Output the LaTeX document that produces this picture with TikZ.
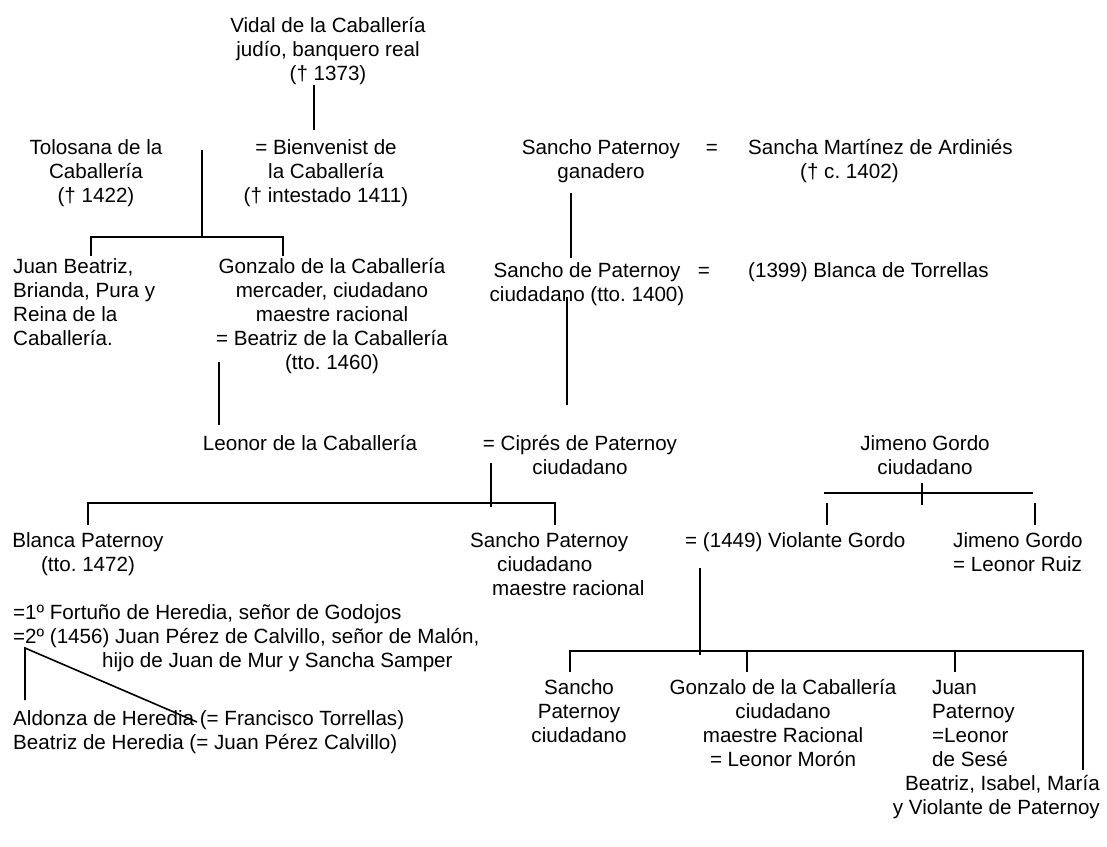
\documentclass[tikz,border=0pt]{standalone}
\usepackage{fontspec}
\setmainfont{Liberation Sans}
\usepackage{tikz}
\usetikzlibrary{positioning}
\frenchspacing

\begin{document}
\begin{tikzpicture}[x=1pt, y=-1pt, every node/.style={font=\fontsize{20.6}{24}\selectfont, inner sep=0pt}]
\tikzset{pers/.style={align=center, anchor=base}}
\tikzset{persl/.style={align=left, anchor=base west}}
\tikzset{persr/.style={align=right, anchor=base east}}
\tikzset{tie/.style={line width=1.6pt}}
\useasboundingbox (0,0) rectangle (1107,846);
% first generations (node base = baseline of last line)
\node[pers] (vidal) at (328,80) {Vidal de la Caballería\\judío, banquero real\\(† 1373)};
\node[pers] (tolosana) at (96,202) {Tolosana de la\\Caballería\\(† 1422)};
\node[pers] (bienv) at (326,202) {= Bienvenist de\\la Caballería\\(† intestado 1411)};
\node[persl] (juan) at (13,345) {Juan Beatriz,\\Brianda, Pura y\\Reina de la\\Caballería.};
\node[pers] (gonz1) at (332,369) {Gonzalo de la Caballería\\mercader, ciudadano\\maestre racional\\= Beatriz de la Caballería\\(tto. 1460)};
\node[pers] (leonor) at (310,450) {Leonor de la Caballería};
% Paternoy side
\node[pers] (sp1) at (601,178) {Sancho Paternoy\\ganadero};
\node[pers] (eq1) at (712,154) {=};
\node[persl] (sancha) at (748,178) {Sancha Martínez de Ardiniés\\\hspace*{52pt}(† c. 1402)};
\node[pers] (sp2) at (587,301) {Sancho de Paternoy\\ciudadano (tto. 1400)};
\node[pers] (eq2) at (704,277) {=};
\node[persl] (blancat) at (748,277) {(1399) Blanca de Torrellas};
\node[pers] (cipres) at (580,474) {= Ciprés de Paternoy\\ciudadano};
\node[pers] (jg1) at (925,474) {Jimeno Gordo\\ciudadano};
% next generation
\node[pers] (blanca) at (88,571) {Blanca Paternoy\\(tto. 1472)};
\node[persl] (sp3) at (470,595) {Sancho Paternoy\\\hspace*{27pt}ciudadano\\\hspace*{22pt}maestre racional};
\node[persl] (violante) at (685,547) {= (1449) Violante Gordo};
\node[persl] (jg2) at (953,571) {Jimeno Gordo\\= Leonor Ruiz};
\node[persl] (heredia) at (13,667) {=1º Fortuño de Heredia, señor de Godojos\\=2º (1456) Juan Pérez de Calvillo, señor de Malón,\\\hspace*{89pt}hijo de Juan de Mur y Sancha Samper};
\node[persl] (aldonza) at (13,749) {Aldonza de Heredia (= Francisco Torrellas)\\Beatriz de Heredia (= Juan Pérez Calvillo)};
\node[pers] (ch1) at (579,742) {Sancho\\Paternoy\\ciudadano};
\node[pers] (ch2) at (783,766) {Gonzalo de la Caballería\\ciudadano\\maestre Racional\\= Leonor Morón};
\node[persl] (ch3) at (932,766) {Juan\\Paternoy\\=Leonor\\de Sesé};
\node[persr] (ch4) at (1100,814) {Beatriz, Isabel, María\\y Violante de Paternoy};
% fork points
\coordinate (vd) at (314,85);   \coordinate (bv) at (314,130);
\coordinate (m1) at (202,150);  \coordinate (f1) at (202,237);
\coordinate (f1l) at (91,237);  \coordinate (f1r) at (283,237);
\coordinate (d1l) at (91,256);  \coordinate (d1r) at (283,256);
\coordinate (gz) at (219,362);  \coordinate (ln) at (219,425);
\coordinate (s1) at (571,193);  \coordinate (s2) at (571,258);
\coordinate (s3) at (567,297);  \coordinate (cp) at (567,405);
\coordinate (m2) at (491,463);  \coordinate (f2) at (491,507);
\coordinate (f2l) at (88,503);  \coordinate (f2r) at (555,503);
\coordinate (d2l) at (88,525);  \coordinate (d2r) at (555,525);
\coordinate (f3l) at (824,493); \coordinate (f3r) at (1033,493);
\coordinate (t3a) at (922,483); \coordinate (t3b) at (922,505);
\coordinate (u3l) at (827,503); \coordinate (d3l) at (827,525);
\coordinate (u3r) at (1035,503); \coordinate (d3r) at (1035,525);
\coordinate (m4) at (700,568);  \coordinate (f4) at (700,655);
\coordinate (f4a) at (570,651); \coordinate (f4b) at (747,651);
\coordinate (f4c) at (955,651); \coordinate (f4d) at (1083,651);
\coordinate (d4a) at (570,672); \coordinate (d4b) at (747,672);
\coordinate (d4c) at (955,672); \coordinate (d4d) at (1083,770);
\coordinate (h0) at (25,648);   \coordinate (h1) at (25,700);
\coordinate (h2) at (197,722);
% lines
\draw[tie] (vd) -- (bv);
\draw[tie] (m1) -- (f1);
\draw[tie] (d1l) -- (f1l) -- (f1r) -- (d1r);
\draw[tie] (gz) -- (ln);
\draw[tie] (s1) -- (s2);
\draw[tie] (s3) -- (cp);
\draw[tie] (m2) -- (f2);
\draw[tie] (d2l) -- (f2l) -- (f2r) -- (d2r);
\draw[tie] (f3l) -- (f3r);
\draw[tie] (t3a) -- (t3b);
\draw[tie] (u3l) -- (d3l); \draw[tie] (u3r) -- (d3r);
\draw[tie] (m4) -- (f4);
\draw[tie] (d4a) -- (f4a) -- (f4d) -- (d4d);
\draw[tie] (f4b) -- (d4b); \draw[tie] (f4c) -- (d4c);
\draw[tie] (h1) -- (h0) -- (h2);
\end{tikzpicture}
\end{document}
